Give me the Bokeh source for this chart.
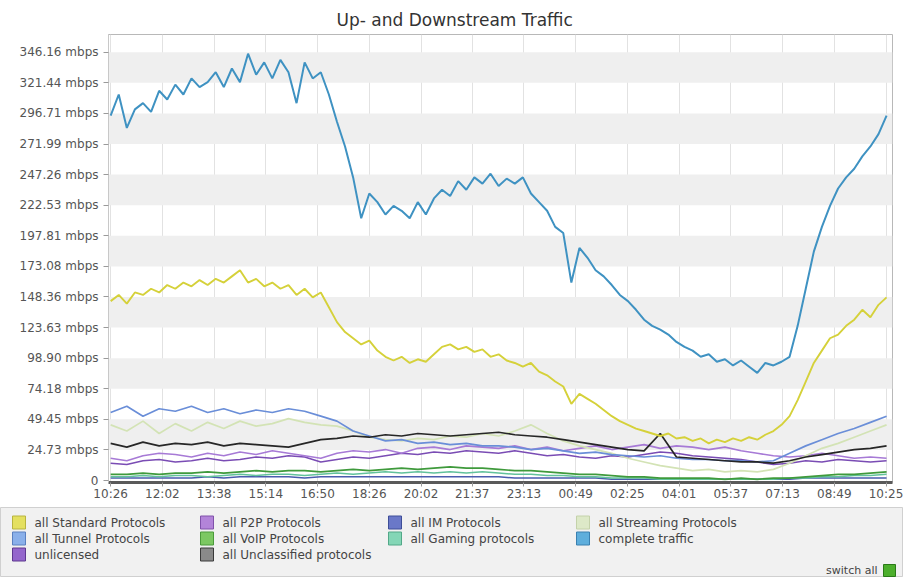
from bokeh.plotting import figure
from bokeh.models import Range1d, FixedTicker, BoxAnnotation
from bokeh.embed import file_html
from bokeh.resources import INLINE
from bokeh.core.properties import value

FONT = "DejaVu Sans"

# ---------------- data ----------------
x_tick_minutes = [0, 96, 192, 288, 384, 480, 576, 671, 767, 863, 959, 1055, 1151, 1247, 1343, 1439]
x_tick_labels = ["10:26", "12:02", "13:38", "15:14", "16:50", "18:26", "20:02", "21:37",
                 "23:13", "00:49", "02:25", "04:01", "05:37", "07:13", "08:49", "10:25"]

y_ticks = [0, 24.726, 49.451, 74.177, 98.903, 123.629, 148.354, 173.08,
           197.806, 222.531, 247.257, 271.983, 296.709, 321.434, 346.16]
y_tick_labels = ["0", "24.73 mbps", "49.45 mbps", "74.18 mbps", "98.90 mbps", "123.63 mbps",
                 "148.36 mbps", "173.08 mbps", "197.81 mbps", "222.53 mbps", "247.26 mbps",
                 "271.99 mbps", "296.71 mbps", "321.44 mbps", "346.16 mbps"]

t15 = list(range(0, 1441, 15))   # sample times, minutes after 10:26
t30 = list(range(0, 1441, 30))

complete_traffic = [295, 312, 285, 300, 305, 298, 315, 308, 320, 312,
                    325, 318, 322, 330, 318, 333, 322, 345, 328, 338,
                    325, 340, 330, 305, 338, 325, 330, 312, 290, 270,
                    245, 212, 232, 225, 215, 222, 218, 212, 225, 215,
                    228, 235, 230, 242, 235, 245, 240, 248, 238, 244,
                    240, 245, 232, 225, 218, 205, 200, 160, 188, 180,
                    170, 165, 158, 150, 145, 138, 130, 125, 122, 118,
                    112, 108, 105, 100, 102, 96, 98, 93, 97, 92,
                    87, 95, 93, 96, 100, 125, 155, 185, 205, 222,
                    236, 245, 252, 262, 270, 280, 295]

standard = [145, 150, 143, 152, 150, 155, 152, 158, 155, 160,
            157, 162, 158, 163, 160, 165, 170, 160, 163, 157,
            160, 155, 158, 150, 155, 148, 152, 140, 128, 120,
            115, 110, 113, 105, 100, 97, 100, 95, 98, 96,
            102, 108, 110, 106, 108, 104, 106, 100, 102, 97,
            95, 92, 95, 88, 85, 80, 76, 62, 70, 66,
            62, 57, 52, 48, 45, 42, 40, 38, 36, 38,
            34, 35, 32, 34, 30, 33, 31, 34, 32, 35,
            33, 37, 40, 45, 52, 65, 80, 95, 105, 115,
            118, 125, 130, 138, 132, 142, 148]

tunnel = [55, 60, 52, 58, 56, 60, 55, 58, 54, 57,
          55, 58, 56, 52, 48, 40, 36, 32, 33, 30,
          31, 29, 30, 28, 28, 27, 25, 26, 24, 22,
          23, 21, 20, 19, 20, 18, 17, 17, 16, 16,
          15, 16, 22, 28, 33, 38, 42, 47, 52]

streaming = [45, 40, 48, 38, 46, 40, 47, 42, 48, 44,
             46, 50, 47, 45, 44, 40, 35, 33, 32, 34,
             33, 36, 35, 38, 36, 40, 45, 38, 32, 28,
             25, 22, 18, 15, 12, 10, 8, 9, 7, 8,
             7, 9, 14, 20, 26, 30, 35, 40, 45]

unclassified = [30, 27, 31, 28, 30, 29, 31, 28, 30, 29,
                28, 27, 30, 33, 34, 36, 35, 37, 36, 38,
                37, 36, 37, 38, 39, 37, 36, 35, 33, 31,
                29, 27, 25, 24, 38, 19, 18, 17, 16, 15,
                15, 14, 16, 19, 21, 23, 25, 26, 28]

p2p = [18, 16, 20, 22, 21, 19, 22, 20, 23, 21,
       24, 22, 20, 18, 22, 24, 23, 25, 22, 26,
       27, 25, 28, 27, 26, 28, 25, 27, 24, 26,
       28, 25, 27, 29, 26, 28, 27, 25, 27, 24,
       22, 20, 19, 20, 22, 20, 18, 19, 18]

unlicensed = [14, 13, 16, 17, 15, 16, 18, 16, 17, 19,
              18, 20, 19, 15, 17, 19, 18, 20, 22, 21,
              23, 22, 24, 23, 22, 24, 22, 20, 21, 19,
              18, 20, 19, 21, 23, 22, 20, 19, 18, 17,
              15, 13, 14, 16, 15, 17, 16, 15, 16]

voip = [5, 5, 6, 5, 6, 6, 7, 6, 7, 8,
        7, 8, 8, 7, 8, 9, 8, 9, 10, 9,
        10, 11, 10, 10, 9, 8, 8, 7, 6, 5,
        5, 4, 3, 3, 2, 2, 2, 2, 1, 2,
        1, 2, 2, 3, 4, 5, 5, 6, 7]

gaming = [3, 3, 4, 3, 4, 4, 3, 4, 5, 4,
          5, 5, 4, 5, 6, 5, 6, 7, 6, 7,
          6, 7, 6, 7, 6, 5, 5, 4, 4, 3,
          3, 2, 2, 2, 1, 1, 1, 1, 1, 1,
          1, 1, 2, 2, 3, 3, 4, 4, 5]

im = [2, 2, 2, 2, 2, 2, 3, 2, 3, 3,
      3, 3, 2, 3, 3, 3, 3, 3, 3, 3,
      3, 3, 3, 3, 3, 2, 2, 2, 2, 2,
      2, 1, 1, 1, 1, 1, 1, 1, 1, 1,
      1, 1, 1, 2, 2, 2, 2, 2, 2]

# drawing order (bottom first): (name, times, values, line colour, width)
series = [
    ("all IM Protocols", t30, im, "#4a5cae", 1.5),
    ("all Gaming protocols", t30, gaming, "#62c29c", 1.5),
    ("all VoIP Protocols", t30, voip, "#3f9a3c", 1.7),
    ("unlicensed", t30, unlicensed, "#7a4cb4", 1.6),
    ("all P2P Protocols", t30, p2p, "#a77ad6", 1.6),
    ("all Streaming Protocols", t30, streaming, "#d3e3b5", 1.7),
    ("all Tunnel Protocols", t30, tunnel, "#6a8ed8", 1.7),
    ("all Unclassified protocols", t30, unclassified, "#262626", 1.7),
    ("all Standard Protocols", t15, standard, "#d5d13a", 1.9),
    ("complete traffic", t15, complete_traffic, "#3f92c2", 2.0),
]

legend_labels = ["all Standard Protocols", "all P2P Protocols", "all IM Protocols", "all Streaming Protocols",
                 "all Tunnel Protocols", "all VoIP Protocols", "all Gaming protocols", "complete traffic",
                 "unlicensed", "all Unclassified protocols"]
legend_fill = ["#e4e060", "#b384d9", "#6a78c8", "#dde9c8",
               "#8ab0ea", "#7cc862", "#84d6b6", "#5eaedc",
               "#9466cc", "#8a8a8a"]
legend_edge = ["#b8b440", "#8052aa", "#3e4e98", "#c4d2aa",
               "#5a80c0", "#4a9a3a", "#52a888", "#3a80b0",
               "#5e3890", "#3a3a3a"]

# ---------------- main chart ----------------
W = 903
p = figure(frame_width=784, frame_height=448, output_backend="svg", toolbar_location=None,
           x_range=Range1d(-4, 1451), y_range=Range1d(-1.6, 360.5),
           min_border_left=108, min_border_right=11, min_border_top=34, min_border_bottom=25,
           background_fill_color="white", border_fill_color="white")

p.title.text = "Up- and Downstream Traffic"
p.title.align = "left"
p.title.offset = 228
p.title.text_font = FONT
p.title.text_font_size = "17px"
p.title.text_font_style = "normal"
p.title.text_color = "#333333"

p.outline_line_color = "#b8b8b8"
p.outline_line_width = 1

# alternating grey bands between y ticks
for i in range(1, len(y_ticks) - 1, 2):
    p.add_layout(BoxAnnotation(bottom=y_ticks[i], top=y_ticks[i + 1],
                               fill_color="#efefef", fill_alpha=1.0, line_color=None, level="underlay"))

p.xaxis.ticker = FixedTicker(ticks=x_tick_minutes)
p.xaxis.major_label_overrides = {t: l for t, l in zip(x_tick_minutes, x_tick_labels)}
p.yaxis.ticker = FixedTicker(ticks=y_ticks)
p.yaxis.major_label_overrides = {t: l for t, l in zip(y_ticks, y_tick_labels)}

for ax in (p.xaxis, p.yaxis):
    ax.major_label_text_font = FONT
    ax.major_label_text_font_size = "12px"
    ax.major_label_text_color = "#555555"
    ax.minor_tick_line_color = None
    ax.major_tick_line_color = "#9a9a9a"
    ax.major_tick_in = 0
    ax.major_tick_out = 5

p.xaxis.major_tick_out = 4
p.xaxis.axis_line_color = "#5a5a5a"
p.xaxis.axis_line_width = 3
p.yaxis.axis_line_color = "#c8c8c8"
p.xaxis.major_label_standoff = 0
p.yaxis.major_label_standoff = 5

p.xgrid.grid_line_color = "#e2e2e2"
p.ygrid.grid_line_color = None

for name, ts, vals, color, lw in series:
    p.line(ts, vals, line_color=color, line_width=lw)

# ---------------- legend panel (separate root, full width) ----------------
LH = 70
lg = figure(width=W, height=LH, output_backend="svg", toolbar_location=None,
            x_range=Range1d(0, W), y_range=Range1d(LH, 0),
            min_border=0, background_fill_color="#f1f1f1", border_fill_color="white")
lg.axis.visible = False
lg.grid.visible = False
lg.outline_line_color = "#d0d0d0"

col_x = [12, 200, 388, 576]
row_y = [15, 31, 47]
sx, sy, tx = [], [], []
for k in range(len(legend_labels)):
    r, c = divmod(k, 4)
    sx.append(col_x[c] + 6.5)
    sy.append(row_y[r])
    tx.append(col_x[c] + 22)

lg.rect(sx, sy, width=13, height=13, width_units="screen", height_units="screen",
        fill_color=legend_fill, line_color=legend_edge, line_width=1)
lg.text(tx, sy, text=legend_labels, text_font=value(FONT), text_font_size="12px",
        text_color="#444444", text_baseline="middle", text_align="left")

lg.text([877], [63], text=["switch all"], text_font=value(FONT), text_font_size="11px",
        text_color="#444444", text_baseline="middle", text_align="right")
lg.rect([889], [63], width=12, height=12, width_units="screen", height_units="screen",
        fill_color="#4caf2c", line_color="#2a7a18", line_width=1)

open("out.html", "w").write(file_html([p, lg], INLINE))
